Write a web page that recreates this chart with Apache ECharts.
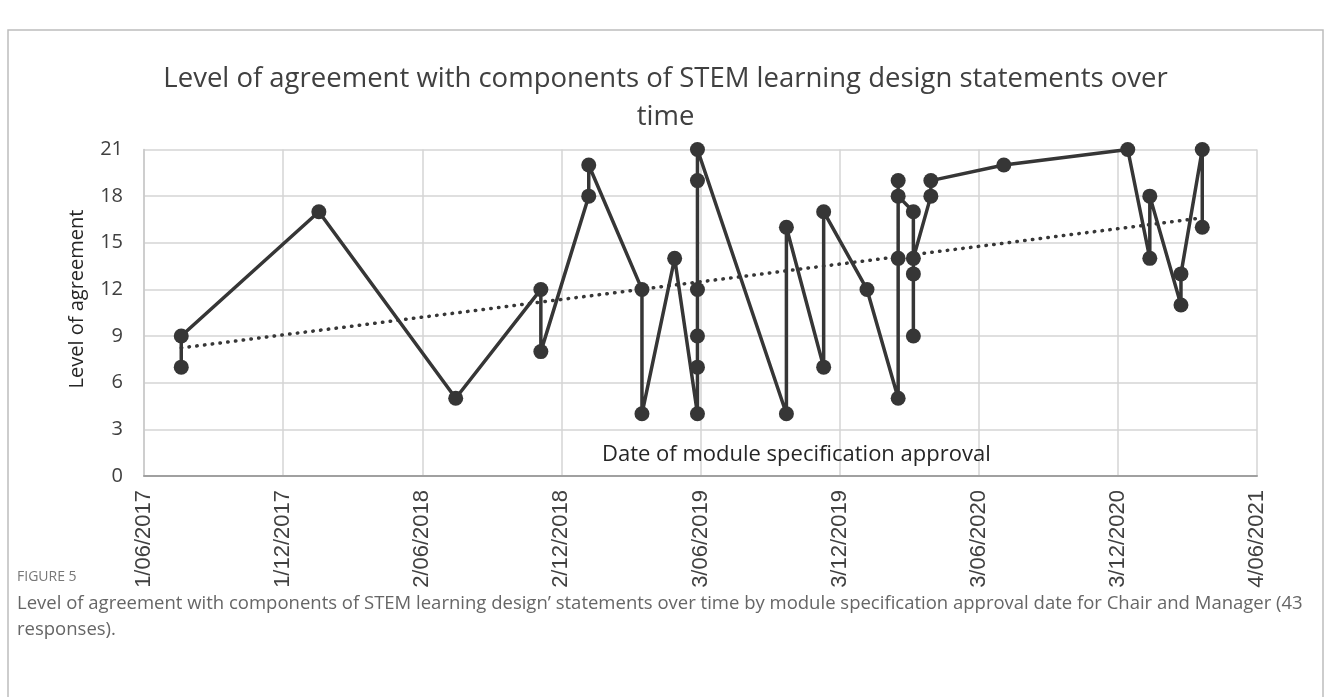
<!DOCTYPE html>
<html>
<head>
<meta charset="utf-8">
<script src="https://cdn.jsdelivr.net/npm/echarts@6/dist/echarts.min.js"></script>
<style>
  html, body { margin: 0; padding: 0; background: #fff; }
  #agreement { width: 1331px; height: 697px; }
</style>
</head>
<body>
<div id="agreement"></div>
<script>
// values
const axisStart = '2017-06-01'
const approvalDates = [
  '2017-07-20', '2017-07-20', '2018-01-17', '2018-07-16', '2018-11-05', '2018-11-05',
  '2019-01-07', '2019-01-07', '2019-03-18', '2019-03-18', '2019-04-30',
  '2019-05-30', '2019-05-30', '2019-05-30', '2019-05-30', '2019-05-30', '2019-05-30',
  '2019-09-24', '2019-09-24', '2019-11-12', '2019-11-12', '2020-01-08',
  '2020-02-18', '2020-02-18', '2020-02-18', '2020-02-18',
  '2020-03-09', '2020-03-09', '2020-03-09', '2020-03-09',
  '2020-04-01', '2020-04-01', '2020-07-06', '2020-12-16',
  '2021-01-14', '2021-01-14', '2021-02-24', '2021-02-24', '2021-03-24', '2021-03-24'
]
const agreementLevels = [
  7, 9, 17, 5, 12, 8,
  18, 20, 12, 4, 14,
  4, 7, 9, 12, 19, 21,
  4, 16, 7, 17, 12,
  5, 14, 19, 18,
  17, 9, 13, 14,
  18, 19, 20, 21,
  14, 18, 11, 13, 21, 16
]
// linear trendline (Excel) end values
const trendDates = ['2017-07-20', '2021-03-24']
const trendLevels = [8.24, 16.6]

const xTickLabels = ['1/06/2017', '1/12/2017', '2/06/2018', '2/12/2018', '3/06/2019',
  '3/12/2019', '3/06/2020', '3/12/2020', '4/06/2021']
const yTicks = [0, 3, 6, 9, 12, 15, 18, 21]
const xStep = 183 // days between date labels

function dayOf (d) {
  return (Date.parse(d) - Date.parse(axisStart)) / 864e5
}

const chart = echarts.init(document.getElementById('agreement'))

const option = {
  backgroundColor: '#fff',
  animation: false,
  title: [{
    text: 'Level of agreement with components of STEM learning design statements over\ntime',
    left: 'center',
    top: 55,
    textStyle: {
      fontFamily: 'Open Sans',
      fontSize: 27.5,
      fontWeight: 'normal',
      lineHeight: 38,
      color: '#404040'
    }
  }, {
    text: 'Date of module specification approval',
    left: 597,
    top: 439,
    textStyle: {
      fontFamily: 'Open Sans',
      fontSize: 22,
      fontWeight: 'normal',
      color: '#262626'
    }
  }],
  grid: {
    left: 144,
    right: 74,
    top: 149.5,
    bottom: 221,
    outerBoundsMode: 'none'
  },
  xAxis: {
    type: 'value',
    min: 0,
    max: xStep * (xTickLabels.length - 1),
    interval: xStep,
    axisLine: { show: true, lineStyle: { color: '#a0a0a0', width: 2 } },
    axisTick: { show: false },
    splitLine: { show: true, lineStyle: { color: '#d4d4d4', width: 1.5 } },
    axisLabel: {
      rotate: 90,
      margin: 14,
      fontFamily: 'Liberation Sans',
      fontSize: 22,
      color: '#404040',
      formatter: v => xTickLabels[Math.round(v / xStep)]
    }
  },
  yAxis: {
    type: 'value',
    min: yTicks[0],
    max: yTicks[yTicks.length - 1],
    interval: yTicks[1] - yTicks[0],
    axisLine: { show: true, lineStyle: { color: '#c8c8c8', width: 1.5 } },
    axisTick: { show: false },
    splitLine: { show: true, lineStyle: { color: '#d4d4d4', width: 1.5 } },
    axisLabel: {
      margin: 21,
      fontFamily: 'Open Sans',
      fontSize: 20,
      color: '#404040'
    }
  },
  graphic: [{
    type: 'rect',
    shape: { x: 8, y: 30, width: 1315, height: 700 },
    style: { fill: 'none', stroke: '#bdbdbd', lineWidth: 1.5 },
    silent: true
  }, {
    type: 'text',
    x: 77,
    y: 299,
    rotation: Math.PI / 2,
    style: {
      text: 'Level of agreement',
      fontFamily: 'Open Sans',
      fontSize: 20,
      fill: '#262626',
      align: 'center',
      verticalAlign: 'middle'
    }
  }, {
    type: 'text',
    x: 17,
    y: 577,
    style: {
      text: 'FIGURE 5',
      fontFamily: 'Open Sans',
      fontSize: 14,
      fill: '#777',
      verticalAlign: 'middle'
    }
  }, {
    type: 'text',
    x: 17,
    y: 591,
    style: {
      text: 'Level of agreement with components of STEM learning design\u2019 statements over time by module specification approval date for Chair and Manager (43\nresponses).',
      fontFamily: 'Open Sans',
      fontSize: 18.5,
      lineHeight: 26,
      fill: '#666'
    }
  }],
  series: [{
    name: 'Level of agreement',
    type: 'line',
    data: approvalDates.map((d, i) => [dayOf(d), agreementLevels[i]]),
    symbol: 'circle',
    symbolSize: 15,
    lineStyle: { width: 3.5, color: '#363636' },
    itemStyle: { color: '#363636' },
    z: 3
  }, {
    name: 'Linear trend',
    type: 'line',
    data: trendDates.map((d, i) => [dayOf(d), trendLevels[i]]),
    symbol: 'none',
    lineStyle: { width: 3.5, color: '#363636', type: [0.5, 7.3], cap: 'round' },
    z: 4
  }]
}

chart.setOption(option)
</script>
</body>
</html>
